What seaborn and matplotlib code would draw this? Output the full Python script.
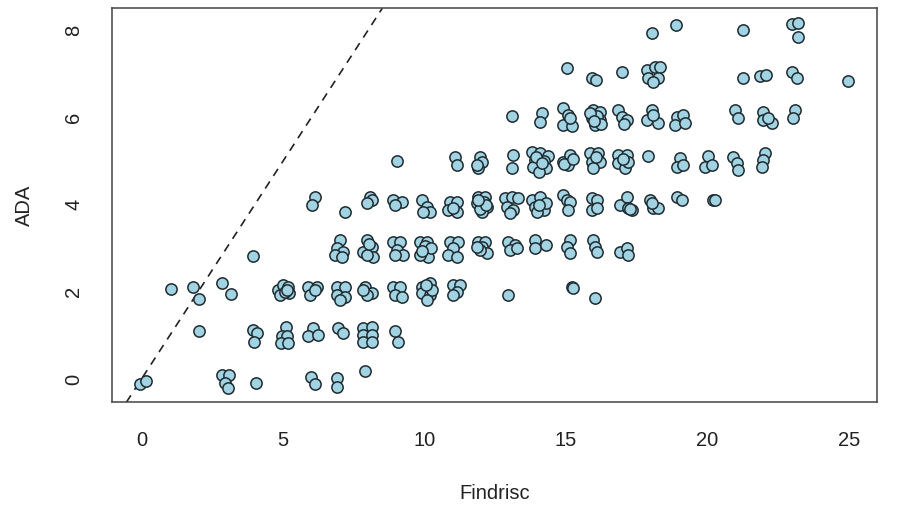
import matplotlib
matplotlib.use('Agg')
import matplotlib.pyplot as plt
import seaborn as sns
import pandas as pd

# Findrisc score (jittered) for each subject, grouped by score column
findrisc = [
    -0.05, 0.16,
    1.04,
    1.82, 2.03, 2.03,
    2.84, 3.15, 2.84, 3.10, 2.95, 3.05,
    3.93, 3.93, 4.07, 3.98, 4.04,
    4.83, 5.00, 5.18, 4.90, 5.22, 5.07, 5.14, 5.11, 4.96, 5.14, 4.93, 5.18,
    6.13, 6.03, 5.89, 6.21, 5.96, 6.13, 6.06, 5.89, 6.24, 6.00, 6.13,
    7.20, 7.02, 6.91, 7.13, 6.84, 7.09, 6.91, 7.20, 6.91, 7.20, 7.02, 6.95, 7.13, 6.91, 6.91,
    8.08, 8.15, 7.97, 7.97, 8.15, 7.83, 8.19, 7.97, 8.05, 7.90, 8.15, 7.97, 7.83,
    7.83, 8.15, 7.83, 8.15, 7.83, 8.15, 7.90,
    9.03, 8.89, 9.21, 8.96, 8.89, 9.14, 9.03, 9.25, 8.96, 8.89, 9.14, 8.96, 9.21, 8.96, 9.07,
    9.92, 10.10, 10.20, 9.96, 9.85, 10.10, 9.96, 10.13, 9.85, 10.03, 10.22, 9.90,
    9.92, 10.20, 9.92, 10.20, 10.10, 10.27, 10.05,
    11.08, 11.15, 10.91, 11.15, 10.84, 11.15, 11.01, 10.91, 11.19, 11.01, 10.84, 11.15,
    11.01, 11.26, 11.15, 11.01,
    11.97, 12.04, 11.90, 11.86, 11.90, 12.14, 11.97, 12.21, 12.04, 11.86, 12.10, 11.95, 12.18, 11.88,
    11.90, 12.14, 12.04, 12.21, 11.97, 11.86,
    13.10, 13.13, 13.10, 12.85, 13.10, 13.31, 12.92, 13.13, 13.03, 12.96, 13.20, 13.03, 13.27, 12.96,
    14.17, 14.10, 13.81, 14.10, 14.38, 13.92, 14.21, 13.85, 14.28, 14.05, 13.95, 14.15,
    13.81, 14.10, 13.92, 14.21, 13.99, 14.30, 14.05, 13.92, 13.92, 14.28,
    15.05, 14.90, 15.08, 14.90, 15.22, 15.15, 14.90, 15.15, 15.08, 14.92, 15.25,
    14.90, 15.05, 15.15, 15.08, 15.15, 15.05, 15.15, 15.22, 15.26,
    15.93, 16.07, 15.96, 16.21, 15.93, 16.03, 16.21, 16.10, 15.86, 16.25, 16.00,
    15.86, 16.14, 15.93, 16.21, 15.96, 16.05, 15.93, 16.10, 15.93, 16.10,
    15.96, 16.03, 16.10, 16.03,
    16.99, 16.85, 16.99, 17.17, 17.05, 16.85, 17.17, 16.85, 17.10, 17.20, 17.03,
    16.92, 17.17, 17.20, 17.34, 17.27, 16.92, 17.17, 17.20,
    18.05, 17.87, 18.16, 18.34, 17.91, 18.27, 18.09, 18.05, 17.87, 18.27, 18.09,
    17.91, 17.98, 18.09, 18.27, 18.05,
    18.90, 18.94, 19.15, 18.87, 19.22, 19.04, 18.94, 19.15, 18.94, 19.11,
    20.03, 19.93, 20.17, 20.21, 20.28,
    21.27, 21.27, 20.99, 21.09, 20.92, 21.06, 21.09,
    21.87, 22.08, 21.98, 21.98, 22.30, 22.16, 22.05, 21.98, 21.94,
    23.00, 23.22, 23.22, 23.00, 23.18, 23.11, 23.04,
    24.98,
]

# ADA score (jittered), same order as findrisc
ada = [
    -0.11, -0.05,
    2.07,
    2.11, 1.84, 1.10,
    2.20, 1.95, 0.09, 0.09, -0.09, -0.21,
    2.83, 1.13, 1.06, 0.85, -0.09,
    2.04, 2.16, 2.11, 1.93, 1.98, 2.00, 2.05, 1.19, 0.99, 0.99, 0.83, 0.83,
    4.18, 4.00, 2.11, 2.11, 1.93, 2.04, 1.17, 0.99, 1.01, 0.05, -0.11,
    3.84, 3.19, 3.01, 2.92, 2.85, 2.80, 2.11, 2.11, 1.93, 1.88, 1.81, 1.17, 1.06, 0.02, -0.18,
    4.18, 4.11, 4.04, 3.19, 3.03, 2.92, 2.80, 2.85, 3.10, 2.11, 1.98, 1.93, 2.04,
    1.17, 1.19, 1.01, 1.01, 0.85, 0.85, 0.18,
    5.01, 4.11, 4.07, 4.00, 3.15, 3.15, 2.96, 2.85, 2.85, 2.11, 2.11, 1.93, 1.88, 1.10, 0.85,
    4.11, 3.95, 3.84, 3.84, 3.15, 3.15, 2.96, 2.80, 2.85, 3.05, 3.00, 2.95,
    2.11, 2.20, 1.98, 1.93, 1.81, 2.05, 2.15,
    5.10, 4.92, 4.07, 4.07, 3.88, 3.84, 3.93, 3.15, 3.15, 3.01, 2.85, 2.80,
    2.16, 2.16, 2.00, 1.93,
    5.10, 4.98, 4.85, 4.92, 4.18, 4.18, 3.95, 3.95, 3.84, 4.04, 4.07, 3.90, 4.00, 4.12,
    3.15, 3.15, 3.03, 2.89, 2.96, 3.03,
    6.04, 5.14, 4.85, 4.16, 4.18, 4.16, 3.95, 3.88, 3.81, 3.15, 3.08, 2.96, 3.01, 1.93,
    6.11, 5.91, 5.21, 5.19, 5.12, 5.03, 5.01, 4.87, 4.85, 4.75, 5.10, 4.95,
    4.11, 4.18, 3.95, 3.88, 3.84, 4.05, 4.00, 3.19, 3.01, 3.08,
    7.14, 6.22, 6.06, 5.83, 5.81, 6.00, 4.98, 5.14, 4.92, 4.94, 5.05,
    4.23, 4.11, 4.07, 3.88, 3.19, 3.03, 2.89, 2.11, 2.09,
    6.91, 6.87, 6.18, 6.13, 5.99, 5.83, 5.95, 6.05, 6.10, 5.85, 5.92,
    5.19, 5.19, 4.98, 4.98, 4.85, 5.10, 4.16, 4.11, 3.88, 3.93,
    3.19, 3.03, 2.92, 1.86,
    7.05, 6.18, 6.02, 5.95, 5.85, 5.14, 5.14, 4.96, 4.85, 4.98, 5.05,
    4.00, 4.18, 3.93, 3.88, 3.90, 2.92, 3.01, 2.85,
    7.95, 7.10, 7.17, 7.17, 6.91, 6.91, 6.82, 6.18, 5.95, 5.88, 6.06,
    5.12, 4.11, 3.93, 3.93, 4.04,
    8.13, 6.02, 6.06, 5.83, 5.88, 5.08, 4.87, 4.92, 4.18, 4.11,
    5.12, 4.87, 4.92, 4.11, 4.11,
    8.02, 6.91, 6.18, 5.99, 5.10, 4.96, 4.80,
    6.96, 6.98, 6.13, 5.95, 5.88, 5.99, 5.19, 5.03, 4.87,
    8.15, 8.18, 7.85, 7.05, 6.91, 6.18, 5.99,
    6.85,
]

x_ticks = [0, 5, 10, 15, 20, 25]
y_ticks = [0, 2, 4, 6, 8]

df = pd.DataFrame({'Findrisc': findrisc, 'ADA': ada})

sns.set_style('white')
plt.rcParams['font.family'] = ['Liberation Sans', 'DejaVu Sans']

fig = plt.figure(figsize=(9.17, 5.07), dpi=100)
ax = fig.add_axes([0.1225, 0.2065, 0.834, 0.777])

# reference line y = x
ax.axline((0, 0), slope=1, color='#222222', linestyle=(0, (5, 4)), linewidth=1.2, zorder=1)

sns.scatterplot(data=df, x='Findrisc', y='ADA', ax=ax, s=66, color='#a2d3e2',
                edgecolor='#1e2b30', linewidth=1.1, zorder=2)

ax.set_xlim(-1.03, 26.0)
ax.set_ylim(-0.535, 8.51)
ax.set_xticks(x_ticks)
ax.set_yticks(y_ticks)
ax.set_yticklabels([str(v) for v in y_ticks], rotation=90, va='center')

for side in ['left', 'right', 'top', 'bottom']:
    ax.spines[side].set_visible(True)
    ax.spines[side].set_color('#444444')
    ax.spines[side].set_linewidth(1.1)

ax.tick_params(axis='both', direction='out', length=9, width=1.1, color='#444444',
               labelsize=14.5, labelcolor='#222222')
ax.tick_params(axis='x', pad=12)
ax.tick_params(axis='y', pad=12)
ax.set_xlabel('Findrisc', fontsize=14.5, color='#222222', labelpad=24)
ax.set_ylabel('ADA', fontsize=14.5, color='#222222', labelpad=22)

plt.savefig('out.png', dpi=100)
plt.close()
